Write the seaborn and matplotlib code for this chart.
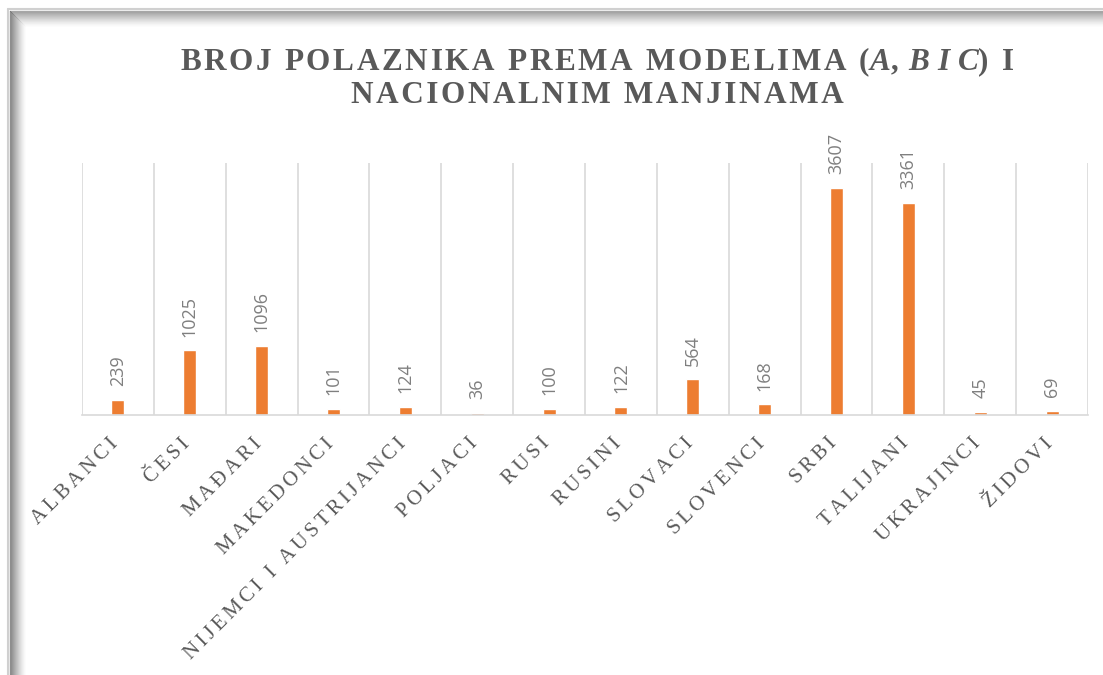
import numpy as np
import pandas as pd
import matplotlib
matplotlib.use("Agg")
import matplotlib.pyplot as plt
import matplotlib.transforms as mtrans
import seaborn as sns
from matplotlib.lines import Line2D

# data
kategorije = ['ALBANCI', 'ČESI', 'MAĐARI', 'MAKEDONCI', 'NIJEMCI I AUSTRIJANCI',
              'POLJACI', 'RUSI', 'RUSINI', 'SLOVACI', 'SLOVENCI', 'SRBI',
              'TALIJANI', 'UKRAJINCI', 'ŽIDOVI']
polaznici = [239, 1025, 1096, 101, 124, 36, 100, 122, 564, 168, 3607, 3361, 45, 69]

df = pd.DataFrame({'manjina': kategorije, 'broj': polaznici})

sns.set_theme(style='white')
plt.rcParams['font.family'] = ['Liberation Serif', 'DejaVu Serif']
plt.rcParams['mathtext.fontset'] = 'custom'
plt.rcParams['mathtext.it'] = 'Liberation Serif:italic:bold'
plt.rcParams['mathtext.rm'] = 'Liberation Serif:bold'

HS = '\u200a'  # hair space, fake letter spacing


def spaced(s, n=1):
    return (HS * n).join(s)


fig = plt.figure(figsize=(11.03, 6.75), dpi=100)
ax = fig.add_axes([82 / 1103, 1 - 415 / 675, (1088 - 82) / 1103, (415 - 163) / 675])

sns.barplot(data=df, x='manjina', y='broj', color='#ED7D31', width=0.18,
            saturation=1, ax=ax)

ax.set_xlim(-0.5, len(kategorije) - 0.5)
ax.set_ylim(0, 4000)
ax.set_yticks([])
ax.set_xlabel('')
ax.set_ylabel('')

# vertical separators between categories
for b in np.arange(-0.5, len(kategorije), 1.0):
    ax.axvline(b, color='#d9d9d9', lw=1.2, zorder=0)
for s in ['top', 'left', 'right']:
    ax.spines[s].set_visible(False)
ax.spines['bottom'].set_color('#d9d9d9')
ax.spines['bottom'].set_linewidth(1.2)

ax.set_xticks(range(len(kategorije)))
ax.set_xticklabels([spaced(k, 2) for k in kategorije], rotation=45, ha='right',
                   va='top', rotation_mode='anchor', fontsize=15, color='#595959')
ax.tick_params(axis='x', length=0, pad=14)
pomak = mtrans.ScaledTranslation(-9 / 100, 0, fig.dpi_scale_trans)
for lbl in ax.get_xticklabels():
    lbl.set_transform(lbl.get_transform() + pomak)

# value labels
for i, v in enumerate(polaznici):
    ax.annotate(str(v), (i, v), xytext=(0, 10), textcoords='offset points',
                rotation=90, ha='center', va='bottom', fontsize=13,
                color='#7f7f7f', family=['Open Sans', 'DejaVu Sans'])

naslov = (spaced('BROJ POLAZNIKA PREMA MODELIMA (', 1) + r'$A$' + ',' + HS + ' ' +
          r'$B$' + ' ' + r'$I$' + ' ' + r'$C$' + spaced(') I', 1) + '\n' +
          spaced('NACIONALNIM MANJINAMA', 1))
fig.text(597 / 1103, 1 - 45 / 675, naslov, ha='center', va='top', fontsize=22.5,
         fontweight='bold', color='#595959', linespacing=1.12)

# inner shadow of the frame (top and left edges)
fig.add_artist(Line2D([8 / 1103, 8 / 1103], [0, 1 - 9 / 675], color='#d0d0d0', lw=1.5,
                      transform=fig.transFigure))
fig.add_artist(Line2D([8 / 1103, 1], [1 - 9 / 675, 1 - 9 / 675], color='#d0d0d0', lw=1.5,
                      transform=fig.transFigure))
for k in range(16):
    a = 0.6 * (1 - k / 16) ** 1.5
    x = (10 + k) / 1103
    y = 1 - (11 + k) / 675
    fig.add_artist(Line2D([x, x], [0, y], color='#505050', alpha=a, lw=1.0,
                          transform=fig.transFigure))
    fig.add_artist(Line2D([x, 1], [y, y], color='#606060', alpha=a * 0.85, lw=1.0,
                          transform=fig.transFigure))

fig.savefig('out.png', dpi=100)
